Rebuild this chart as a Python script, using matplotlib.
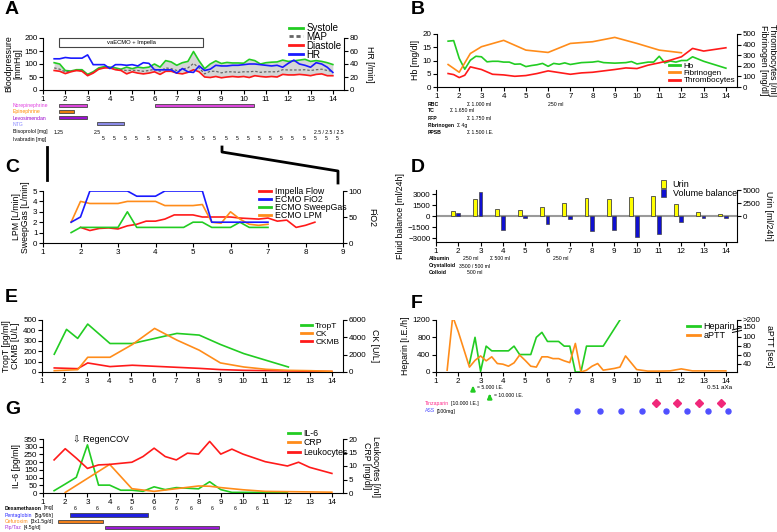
import matplotlib
matplotlib.use("Agg")
import matplotlib.pyplot as plt
from matplotlib.lines import Line2D
from matplotlib.patches import Patch, Rectangle
import numpy as np

plt.rcParams["font.family"] = ["Liberation Sans", "DejaVu Sans"]
plt.rcParams["axes.linewidth"] = 0.8

GREEN = "#22cc22"
RED = "#ff1a1a"
BLUE = "#1a1aff"
ORANGE = "#ff8c1a"
EDGE = "#444444"
W, H = 777, 532
SMALL = 3.7
TICK = 5.8
YLAB = 6.3

#######################
# DATA

# A - haemodynamics
days_a = [1.5, 1.75, 2, 2.25, 2.5, 2.75, 3, 3.25, 3.5, 3.75, 4, 4.25, 4.5, 4.75, 5, 5.25, 5.5,
          5.75, 6, 6.25, 6.5, 6.75, 7, 7.25, 7.5, 7.75, 8, 8.25, 8.5, 8.75, 9, 9.25, 9.5, 9.75,
          10, 10.25, 10.5, 10.75, 11, 11.25, 11.5, 11.75, 12, 12.25, 12.5, 12.75, 13, 13.25,
          13.5, 13.75, 14]
systole = [105, 100, 75, 73, 78, 78, 60, 70, 85, 90, 88, 85, 80, 88, 82, 88, 85, 88, 100, 88,
           113, 108, 95, 105, 110, 148, 112, 82, 100, 112, 102, 106, 104, 104, 103, 118, 113,
           100, 105, 107, 108, 115, 110, 112, 115, 118, 110, 113, 110, 105, 98]
map_bp = [85, 80, 70, 72, 75, 75, 58, 68, 82, 86, 86, 80, 78, 75, 76, 75, 72, 75, 80, 72, 85,
          82, 75, 80, 85, 102, 85, 62, 72, 72, 66, 70, 70, 68, 70, 70, 72, 68, 70, 70, 70, 78,
          77, 77, 77, 78, 75, 78, 80, 75, 72]
diastole = [75, 72, 63, 70, 75, 72, 55, 65, 80, 85, 85, 78, 75, 62, 70, 65, 62, 65, 70, 60, 72,
            72, 65, 62, 68, 78, 70, 50, 48, 52, 47, 50, 52, 50, 52, 48, 55, 52, 50, 52, 50, 60,
            58, 58, 60, 58, 55, 60, 62, 55, 55]
hr = [48, 48, 50, 49, 49, 49, 54, 39, 39, 39, 33, 39, 39, 38, 39, 37, 42, 41, 31, 31, 31, 31,
      26, 33, 28, 27, 37, 30, 32, 38, 37, 37, 38, 38, 39, 40, 40, 39, 38, 37, 38, 35, 41, 46,
      40, 38, 35, 42, 40, 35, 27]
support_span = (1.73, 8.18)
norepi_on = [(1.73, 2.99), (6.02, 10.46)]
epi_on = [(1.73, 2.39)]
levo_on = [(1.73, 2.97)]
ntg_on = [(3.43, 4.64)]
bisoprolol_x = [1.7, 3.45, 13.8]
bisoprolol = ["1.25", "2.5", "2.5 / 2.5 / 2.5"]
ivabradin_x = [3.7, 4.2, 4.7, 5.2, 5.7, 6.2, 6.7, 7.2, 7.7, 8.2, 8.7, 9.2, 9.7, 10.2, 10.7,
               11.2, 11.7, 12.2, 12.7, 13.2, 13.7, 14.2]
ivabradin = ["5"] * 22

# B - blood
hb_x = [1.5, 1.75, 2, 2.25, 2.5, 2.75, 3, 3.25, 3.5, 3.75, 4, 4.25, 4.5, 4.75, 5, 5.25, 5.5,
        5.75, 6, 6.25, 6.5, 6.75, 7, 7.5, 8, 8.25, 8.5, 9, 9.5, 9.75, 10, 10.5, 10.75, 11,
        11.25, 11.5, 11.75, 12, 12.25, 12.5, 13, 14]
hb = [17.3, 17.5, 10.8, 6.7, 10.1, 11.6, 11.4, 9.5, 9.7, 9.7, 9.4, 9.4, 8.6, 8.7, 7.7, 8.1,
      8.4, 8.9, 7.8, 8.9, 8.6, 9.1, 8.5, 9.2, 9.4, 9.7, 9.2, 9.0, 9.2, 9.6, 8.7, 9.4, 9.4,
      11.6, 9.1, 9.8, 9.4, 10.0, 10.0, 11.4, 9.7, 7.1]
fib_x = [1.5, 2, 2.5, 3, 4, 5, 6, 7, 8, 9, 10, 11, 12]
fibrinogen = [212, 139, 316, 380, 440, 348, 326, 411, 427, 468, 411, 348, 323]
thr_x = [1.5, 1.75, 2, 2.25, 2.5, 3, 3.5, 4, 4.5, 5, 5.5, 6, 7, 7.5, 8, 9, 9.5, 10, 10.5, 11,
         11.5, 12, 12.5, 13, 14]
thrombocytes = [127, 117, 89, 111, 190, 165, 120, 114, 101, 108, 127, 152, 120, 133, 139, 165,
                180, 174, 206, 228, 253, 285, 364, 339, 370]

# C - mechanical support
imp_x = [2, 2.25, 2.5, 2.75, 3, 3.25, 3.5, 3.75, 4, 4.25, 4.5, 5, 5.25, 6, 6.25, 6.75, 7,
         7.25, 7.5, 7.75, 8, 8.25]
impella = [1.5, 1.2, 1.4, 1.45, 1.35, 1.65, 1.8, 2.1, 2.1, 2.3, 2.7, 2.7, 2.5, 2.5, 2.4, 2.3,
           2.4, 2.1, 2.2, 1.5, 1.7, 2.0]
fio2_x = [1.75, 2, 2.25, 3.25, 3.5, 4, 4.25, 5.25, 5.5, 7]
fio2 = [40, 50, 100, 100, 90, 90, 100, 100, 40, 40]
sweep_x = [1.75, 2, 3, 3.25, 3.5, 4.75, 5, 5.25, 5.5, 6, 6.25, 6.5, 7]
sweep = [1.0, 1.5, 1.5, 3.0, 1.5, 1.5, 2.0, 2.0, 1.5, 1.5, 2.0, 1.5, 1.5]
lpm_x = [1.75, 2, 2.25, 3, 3.25, 4, 4.25, 5, 5.25, 5.5, 5.75, 6, 6.25, 6.5, 6.75, 7]
lpm = [2.0, 4.0, 3.8, 3.8, 4.0, 4.0, 3.6, 3.6, 3.7, 2.0, 1.9, 3.0, 2.3, 1.8, 1.7, 1.8]

# D - fluids
urin_x = [1.75, 2.75, 3.75, 4.75, 5.75, 6.75, 7.75, 8.75, 9.75, 10.75, 11.75, 12.75, 13.75]
urin = [1076, 3228, 1456, 1266, 1835, 2532, 3418, 3228, 3608, 3861, 2278, 760, 443]
bal_x = [2, 3, 4, 5, 6, 7, 8, 9, 10, 11, 12, 13, 14]
balance = [403, 3224, -1836, -224, -1030, -448, -2060, -1880, -2866, -2418, -850, -180, -270]

# E - cardiac markers
tropt_x = [1.55, 2.1, 2.6, 3.05, 4.05, 5.05, 7.05, 8.05, 9.0, 10.05, 12.05]
tropt = [171, 410, 323, 461, 274, 274, 371, 355, 265, 177, 48]
ck_x = [1.55, 2.6, 3.05, 4.05, 5.05, 6.05, 7.05, 8.05, 9.0, 10.05, 11.05, 12.05, 13.05, 14.0]
ck = [150, 270, 1700, 1700, 3170, 5030, 3680, 2520, 1050, 580, 310, 190, 150, 80]
ckmb = [39, 32, 87, 52, 65, 55, 45, 35, 23, 16, 13, 10, 7, 5]

# F - anticoagulation
hep_x = [2.5, 2.75, 3, 3.25, 3.5, 4, 4.25, 4.5, 4.75, 5, 5.25, 5.5, 5.75, 6, 6.25, 6.5, 6.75,
         7, 7.25, 7.5, 7.75, 8, 8.25, 8.5, 9.25]
heparin = [194, 800, 15, 597, 488, 488, 488, 597, 403, 403, 403, 800, 915, 705, 705, 705, 597,
           597, 0, 0, 597, 597, 597, 597, 1200]
aptt_x = [1.5, 1.75, 2, 2.5, 2.75, 3, 3.25, 3.5, 3.75, 4, 4.25, 4.5, 4.75, 5, 5.25, 5.5, 5.75,
          6, 6.25, 6.5, 6.75, 7, 7.25, 7.5, 7.75, 8, 8.25, 8.5, 9, 9.25, 9.5, 10, 10.5, 11,
          11.5, 12, 12.5, 13, 14]
aptt = [25, 230, 123, 32, 47, 57, 46, 55, 40, 38.5, 34, 41.5, 59, 47, 34, 32, 55, 55, 51, 51,
        46, 42, 85, 21, 25, 34, 40, 25, 29, 32, 57, 26.5, 23, 23, 23.5, 28, 23.5, 23.5, 23.5]
bolus_x = [2.66, 3.41]
bolus = ["= 5.000 I.E.", "= 10.000 I.E."]
tinz_x = [10.85, 11.83, 12.8, 13.77]
ass_x = [7.33, 8.34, 9.28, 10.25, 11.31, 12.27, 13.2, 14.11]

# G - inflammation
il6_x = [1.5, 2, 2.5, 3, 3.5, 4, 4.5, 5, 5.5, 6, 6.5, 7, 7.5, 8, 8.5, 9, 9.5, 10, 11, 12]
il6 = [15, 58, 102, 312, 51, 51, 18, 18, 11, 40, 22, 35, 31, 27, 73, 22, 4, 4, 4, 4]
crp_x = [2, 4, 5, 6, 7, 8, 8.5, 9, 10, 11, 12, 13, 14]
crp = [0.2, 10.6, 1.6, 0.6, 1.6, 2.6, 2.5, 2.0, 1.2, 0.6, 0.5, 0.4, 0.3]
leuko_x = [1.5, 2, 2.5, 3, 3.5, 4, 5, 5.5, 6, 6.5, 7, 7.5, 8, 8.5, 9, 9.5, 10, 11, 12, 12.5,
           13, 14]
leuko = [12.25, 16.4, 12.9, 9.1, 10.4, 10.6, 11.4, 13.5, 16.6, 13.5, 12.25, 14.75, 14.4, 19.1,
         14.4, 16.25, 14.4, 11.6, 10.0, 11.4, 9.5, 7.25]
dexa_x = [2.46, 3.42, 4.39, 4.99, 6.0, 7.0, 7.67, 8.62, 9.67, 10.64]
penta_on = [(2.2, 5.71)]
cefu_on = [(1.69, 3.69)]
piptaz_on = [(3.77, 8.9)]

#######################
# HELPERS

fig = plt.figure(figsize=(W / 100, H / 100), dpi=100)
overlay = fig.add_axes([0, 0, 1, 1])
overlay.axis("off")


def box(l, t, r, b):
    return fig.add_axes([l / W, 1 - b / H, (r - l) / W, (b - t) / H])


def style(ax, twin=None):
    ax.spines["top"].set_visible(False)
    ax.spines["right"].set_visible(False)
    ax.tick_params(labelsize=TICK, length=3, width=0.8, pad=1)
    ax.set_xlim(1, 14.5)
    ax.set_xticks(range(1, 15))
    if twin is not None:
        for s in ["top", "left", "bottom"]:
            twin.spines[s].set_visible(False)
        twin.tick_params(labelsize=TICK, length=3, width=0.8, pad=1)


def strip(l, t, r, b):
    ax = box(l, t, r, b)
    ax.set_xlim(1, 14.5)
    ax.set_ylim(b, t)
    ax.axis("off")
    return ax


def ftxt(x, y, s, **kw):
    kw.setdefault("fontsize", SMALL)
    kw.setdefault("va", "center")
    return fig.text(x / W, 1 - y / H, s, **kw)


def two_part(x, y, first, color, second, weight="normal"):
    t = ftxt(x, y, first, color=color, fontweight=weight)
    overlay.annotate(second, xy=(1, 0.5), xycoords=t, xytext=(1.2, 0),
                     textcoords="offset points", va="center", fontsize=SMALL)


def letter(x, y, s):
    ftxt(x, y, s, fontsize=14, fontweight="bold")


def legend_at(handles, x, y, size=6.3, spacing=-0.1, hl=1.4):
    fig.legend(handles=handles, loc="upper left", bbox_to_anchor=(x / W, 1 - y / H),
               fontsize=size, frameon=False, labelspacing=spacing, handlelength=hl,
               handletextpad=0.4, borderpad=0, borderaxespad=0)


def line(color, label, **kw):
    return Line2D([], [], color=color, lw=2, label=label, **kw)


def drug_bars(ax, spans, y, color):
    for a, b in spans:
        ax.barh(y, b - a, left=a, height=3.2, color=color, edgecolor=EDGE, lw=0.6)


def ylab(ax, s, right=False, pad=2):
    if right:
        ax.set_ylabel(s, fontsize=YLAB, rotation=270, va="bottom", labelpad=pad, linespacing=1.0)
    else:
        ax.set_ylabel(s, fontsize=YLAB, labelpad=pad, linespacing=1.0)


#######################
# A

axA = box(43, 38, 344, 90)
axA2 = axA.twinx()
style(axA, axA2)
axA.fill_between(days_a, systole, diastole, color="#d6d6d6", lw=0)
axA.plot(days_a, systole, color=GREEN, lw=1.2)
axA.plot(days_a, map_bp, color="#666666", lw=0.9, ls=(0, (2, 1.5)))
axA.plot(days_a, diastole, color=RED, lw=1.2)
axA.set_ylim(0, 200)
axA.set_yticks([0, 50, 100, 150, 200])
axA.add_patch(Rectangle((support_span[0], 164), support_span[1] - support_span[0], 35,
                        fc="white", ec=EDGE, lw=0.8, clip_on=False))
axA.text(sum(support_span) / 2, 181, "vaECMO + Impella", fontsize=4.2, ha="center", va="center")
axA2.plot(days_a, hr, color=BLUE, lw=1.2)
axA2.set_ylim(0, 80)
axA2.set_yticks([0, 20, 40, 60, 80])
ylab(axA, "Bloodpressure\n[mmHg]", pad=1)
ylab(axA2, "HR [/min]", right=True, pad=5)
legend_at([line(GREEN, "Systole"), line("#666666", "MAP", ls=(0, (1.5, 1))),
           line(RED, "Diastole"), line(BLUE, "HR")], 289, 23, size=7.0, spacing=-0.12)
letter(5, 9, "A")

sA = strip(43, 98, 344, 145)
drug_bars(sA, norepi_on, 105.8, "#dd44dd")
drug_bars(sA, epi_on, 111.5, "#e87d0f")
drug_bars(sA, levo_on, 117.7, "#9a10d0")
drug_bars(sA, ntg_on, 123.7, "#8a8ae6")
ftxt(13, 106, "Norepinephrine", color="#e040e0")
ftxt(13, 112, "Epinephrine", color="#ff8c00")
ftxt(13, 118, "Levosimendan", color="#9900cc")
ftxt(13, 125, "NTG", color="#8888ff")
ftxt(13, 132, "Bisoprolol [mg]")
ftxt(13, 139, "Ivabradin [mg]")
for x, s in zip(bisoprolol_x, bisoprolol):
    sA.text(x, 132, s, fontsize=SMALL, ha="center", va="center")
for x, s in zip(ivabradin_x, ivabradin):
    sA.text(x, 139, s, fontsize=SMALL, ha="center", va="center")

# zoom connectors A -> C
for xs, ys in [([47, 47], [147, 180]), ([222, 222, 338, 338], [147, 152, 171, 183])]:
    fig.add_artist(Line2D([x / W for x in xs], [1 - y / H for y in ys],
                          transform=fig.transFigure, color="black", lw=2))

#######################
# B

axB = box(437, 34, 737, 87)
axB2 = axB.twinx()
style(axB, axB2)
axB.plot(hb_x, hb, color=GREEN, lw=1.2)
axB.set_ylim(0, 20)
axB.set_yticks([0, 5, 10, 15, 20])
axB2.plot(fib_x, fibrinogen, color=ORANGE, lw=1.2)
axB2.plot(thr_x, thrombocytes, color=RED, lw=1.2)
axB2.set_ylim(0, 500)
axB2.set_yticks([0, 100, 200, 300, 400, 500])
ylab(axB, "Hb [mg/dl]")
ylab(axB2, "Thrombocytes [/nl]\nFibrinogen [mg/dl]", right=True, pad=2)
legend_at([line(GREEN, "Hb"), line(ORANGE, "Fibrinogen"), line(RED, "Thrombocytes")],
          669, 62, size=5.9, spacing=-0.05)
letter(411, 9, "B")
for y, name in [(104, "RBC"), (111, "TC"), (118, "FFP"), (132, "PPSB")]:
    ftxt(428, y, name, fontweight="bold")
two_part(428, 125, "Fibrinogen", "black", "Σ 4g", weight="bold")
ftxt(467, 104, "Σ 1.000 ml")
ftxt(548, 104, "250 ml")
ftxt(450, 111, "Σ 1.650 ml")
ftxt(467, 118, "Σ 1.750 ml")
ftxt(467, 132, "Σ 1.500 I.E.")

#######################
# C

axC = box(43, 191, 343, 243)
axC2 = axC.twinx()
style(axC, axC2)
axC.set_xlim(1, 9)
axC.set_xticks(range(1, 10))
axC.plot(imp_x, impella, color=RED, lw=1.2)
axC.plot(sweep_x, sweep, color=GREEN, lw=1.2)
axC.plot(lpm_x, lpm, color=ORANGE, lw=1.2)
axC.set_ylim(0, 5)
axC.set_yticks([0, 1, 2, 3, 4, 5])
axC2.plot(fio2_x, fio2, color=BLUE, lw=1.2)
axC2.set_ylim(0, 100)
axC2.set_yticks([0, 50, 100])
ylab(axC, "LPM [L/min]\nSweepGas [L/min]")
ylab(axC2, "FiO2", right=True, pad=4)
legend_at([line(RED, "Impella Flow"), line(BLUE, "ECMO FiO2"), line(GREEN, "ECMO SweepGas"),
           line(ORANGE, "ECMO LPM")], 259, 187, size=6.3, spacing=-0.1)
letter(5, 168, "C")

#######################
# D

axD = box(436, 190, 737, 242)
axD2 = axD.twinx()
style(axD, axD2)
axD.axhline(0, color="#9a9a9a", lw=1.5, zorder=1)
axD.bar(bal_x, balance, width=0.17, color="#1010d0", edgecolor=EDGE, lw=0.5, zorder=3)
axD.set_ylim(-3500, 3550)
axD.set_yticks([-3000, -1500, 0, 1500, 3000])
axD2.bar(urin_x, urin, width=0.17, color="#ffff00", edgecolor=EDGE, lw=0.6)
k = (5000 / 3000) * (67 / 79)
axD2.set_ylim(-3500 * k, 3550 * k)
axD2.set_yticks([0, 2500, 5000])
ylab(axD, "Fluid balance [ml/24h]")
ylab(axD2, "Urin [ml/24h]", right=True, pad=3)
fig.legend(handles=[Patch(fc="#ffff00", ec=EDGE, lw=0.6, label="Urin"),
                    Patch(fc="#1010d0", ec=EDGE, lw=0.5, label="Volume balance")],
           loc="upper left", bbox_to_anchor=(661 / W, 1 - 180 / H), fontsize=6.5,
           frameon=False, labelspacing=0.0, handlelength=0.6, handleheight=1.0,
           handletextpad=0.7, borderpad=0, borderaxespad=0)
letter(411, 168, "D")
for y, name in [(258, "Albumin"), (266, "Crystalloid"), (272, "Colloid")]:
    ftxt(429, y, name, fontweight="bold")
ftxt(463, 258, "250 ml")
ftxt(490, 258, "Σ 500 ml")
ftxt(553, 258, "250 ml")
ftxt(459, 266, "3500 / 500 ml")
ftxt(467, 272, "500 ml")

#######################
# E

axE = box(42, 320, 343, 372)
axE2 = axE.twinx()
style(axE, axE2)
axE.plot(tropt_x, tropt, color=GREEN, lw=1.2)
axE.plot(ck_x, ckmb, color=RED, lw=1.2)
axE.set_ylim(0, 500)
axE.set_yticks([0, 100, 200, 300, 400, 500])
axE2.plot(ck_x, ck, color=ORANGE, lw=1.2)
axE2.set_ylim(0, 6000)
axE2.set_yticks([0, 2000, 4000, 6000])
ylab(axE, "TropT [pg/ml]\nCKMB [U/L]")
ylab(axE2, "CK [U/L]", right=True, pad=3)
legend_at([line(GREEN, "TropT"), line(ORANGE, "CK"), line(RED, "CKMB")], 301, 322, size=6,
          hl=1.3, spacing=0.0)
letter(5, 297, "E")

#######################
# F


def fwd(v):
    return np.interp(v, [0, 100, 150, 200, 1000], [0, 100, 124, 137.5, 353.5])


def inv(u):
    return np.interp(u, [0, 100, 124, 137.5, 353.5], [0, 100, 150, 200, 1000])


axF = box(436, 320, 737, 372)
axF2 = axF.twinx()
style(axF, axF2)
axF.plot(hep_x, heparin, color=GREEN, lw=1.2)
axF.set_ylim(0, 1200)
axF.set_yticks([0, 400, 800, 1200])
axF2.set_yscale("function", functions=(fwd, inv))
axF2.plot(aptt_x, aptt, color=ORANGE, lw=1.2)
axF2.set_ylim(21, 200)
axF2.set_yticks([40, 60, 80, 100, 150, 200])
axF2.set_yticklabels(["40", "60", "80", "100", "150", ">200"])
axF2.yaxis.set_minor_locator(plt.NullLocator())
# axis break mark on the aPTT scale
for dy in (0, 0.05):
    axF2.plot([0.985, 1.015], [0.76 + dy, 0.80 + dy], transform=axF2.transAxes, color="black",
              lw=0.7, clip_on=False)
ylab(axF, "Heparin [I.E./h]")
ylab(axF2, "aPTT [sec]", right=True, pad=3)
legend_at([line(GREEN, "Heparin"), line(ORANGE, "aPTT")], 687, 322, size=6.5, spacing=0.0)
letter(411, 303, "F")

sF = strip(436, 376, 737, 418)
for x, s, y in zip(bolus_x, bolus, [388, 396]):
    sF.annotate("", xy=(x, y - 5), xytext=(x, y + 4),
                arrowprops=dict(arrowstyle="-|>", color=GREEN, lw=1.6, mutation_scale=6))
    sF.text(x + 0.2, y, s, fontsize=SMALL, va="center")
sF.text(14.3, 388, "0.51 aXa", fontsize=4.5, ha="right", va="center")
sF.plot(tinz_x, [403] * len(tinz_x), ls="none", marker="D", ms=3.6, color="#f0287a",
        clip_on=False)
sF.plot(ass_x, [411] * len(ass_x), ls="none", marker="o", ms=3.6, color="#5050ff",
        clip_on=False)
two_part(425, 404, "Tinzaparin", "#ff2a8a", "[10.000 I.E.]")
two_part(425, 411, "ASS", "#5050ff", "[100mg]")

#######################
# G

axG = box(43, 439, 343, 493)
axG2 = axG.twinx()
style(axG, axG2)
axG.plot(il6_x, il6, color=GREEN, lw=1.2)
axG.set_ylim(0, 350)
axG.set_yticks(range(0, 351, 50))
axG2.plot(crp_x, crp, color=ORANGE, lw=1.2)
axG2.plot(leuko_x, leuko, color=RED, lw=1.2)
axG2.set_ylim(0, 20)
axG2.set_yticks([0, 5, 10, 15, 20])
axG.text(2.35, 345, "⇩ RegenCOV", fontsize=6.5, va="center")
ylab(axG, "IL-6 [pg/ml]")
ylab(axG2, "Leukocytes [/nl]\nCRP [mg/dl]", right=True, pad=3)
legend_at([line(GREEN, "IL-6"), line(ORANGE, "CRP"), line(RED, "Leukocytes")], 288, 429,
          size=6.3, spacing=0.05)
letter(5, 410, "G")

sG = strip(43, 500, 343, 532)
for x in dexa_x:
    sG.text(x, 508, "6", fontsize=SMALL, ha="center", va="center")
drug_bars(sG, penta_on, 515, "#1f1fe0")
drug_bars(sG, cefu_on, 521.5, "#f07f1a")
drug_bars(sG, piptaz_on, 527.5, "#9b1ad6")
two_part(5, 508, "Dexamethason", "black", "[mg]", weight="bold")
two_part(5, 515, "Pentaglobin", "#2b2bff", "[5g/96h]")
two_part(5, 521.5, "Cefuroxim", "#ff8c1a", "[3x1.5g/d]")
two_part(5, 528, "Pip/Taz", "#aa33dd", "[4.5g/d]")

plt.savefig("out.png", dpi=100)
